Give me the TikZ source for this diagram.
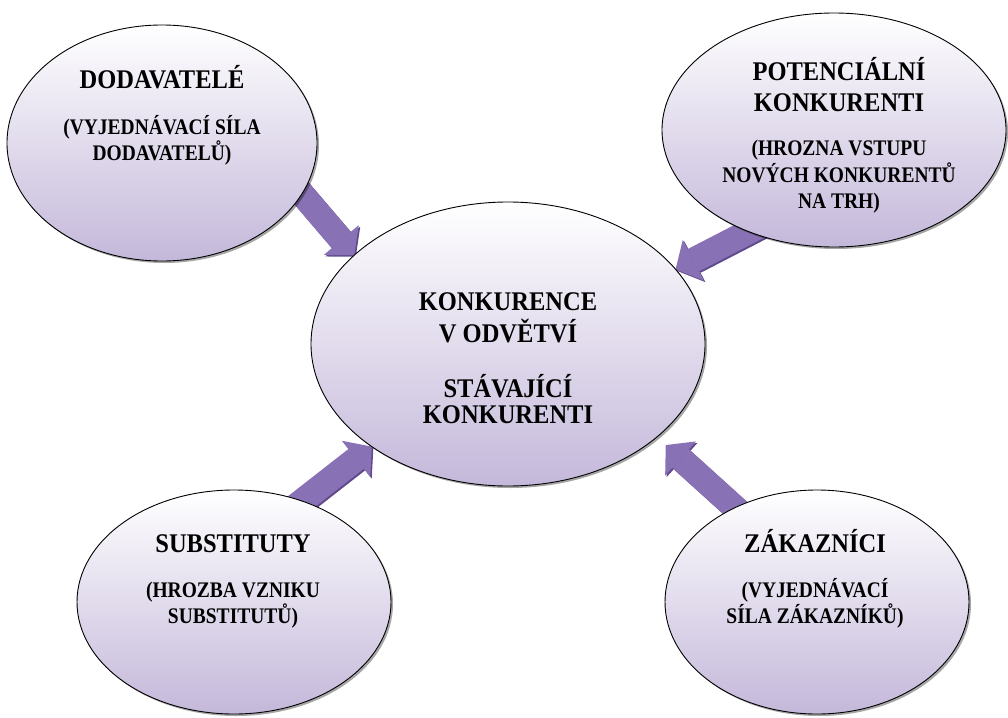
\documentclass[tikz,border=0pt]{standalone}
\usepackage{graphicx}
\usepackage{fontspec}
\setmainfont{Liberation Serif}
\usetikzlibrary{shapes.geometric,shadows,arrows.meta,backgrounds}
\definecolor{lav}{HTML}{C4B8DA}
\definecolor{arrmain}{HTML}{8872B5}
\definecolor{arrdark}{HTML}{5F4B8B}
\newcommand{\ttlbox}[1]{\scalebox{1}[1.1]{#1}}
\newcommand{\sbtbox}[1]{\scalebox{1}[1.14]{#1}}
\begin{document}
\begin{tikzpicture}[x=1pt,y=-1pt,
  bubble/.style={ellipse, draw=black, line width=0.9pt, top color=white, bottom color=lav,
    inner sep=0pt, outer sep=0pt,
    drop shadow={shadow xshift=2pt, shadow yshift=-2pt, fill=black, opacity=0.35}},
  ttl/.style={font=\fontsize{24.5}{28}\selectfont\bfseries, anchor=base, inner sep=0pt},
  sbt/.style={font=\fontsize{19.5}{22}\selectfont\bfseries, anchor=base, inner sep=0pt},
  blockarrow/.style={line width=25pt, draw=arrmain,
    -{Triangle[length=20pt,width=46pt,line width=0pt]}, shorten <=-15pt},
  blockshade/.style={blockarrow, draw=arrdark, fill=arrdark,
    transform canvas={xshift=1.5pt,yshift=-1.5pt}},
]
\useasboundingbox (0,0) rectangle (1008,717);

% ellipses
\node[bubble, minimum width=310pt, minimum height=236pt] (dod) at (162,143) {};
\node[bubble, minimum width=344pt, minimum height=234pt] (pot) at (834,130) {};
\node[bubble, minimum width=394pt, minimum height=284pt] (mid) at (508,344) {};
\node[bubble, minimum width=314pt, minimum height=224pt] (sub) at (234,602) {};
\node[bubble, minimum width=304pt, minimum height=224pt] (zak) at (817,602) {};

% texts
\node[ttl] (dodA) at (162,88)  {\ttlbox{DODAVATELÉ}};
\node[sbt] (dodB) at (162,134) {\sbtbox{(VYJEDNÁVACÍ SÍLA}};
\node[sbt] (dodC) at (162,160) {\sbtbox{DODAVATELŮ)}};

\node[ttl] (potA) at (839,80)  {\ttlbox{POTENCIÁLNÍ}};
\node[ttl] (potB) at (839,111) {\ttlbox{KONKURENTI}};
\node[sbt] (potC) at (839,155) {\sbtbox{(HROZNA VSTUPU}};
\node[sbt] (potD) at (839,182) {\sbtbox{NOVÝCH KONKURENTŮ}};
\node[sbt] (potE) at (839,208) {\sbtbox{NA TRH)}};

\node[ttl] (midA) at (508,310) {\ttlbox{KONKURENCE}};
\node[ttl] (midB) at (508,342) {\ttlbox{V ODVĚTVÍ}};
\node[ttl] (midC) at (508,397) {\ttlbox{STÁVAJÍCÍ}};
\node[ttl] (midD) at (508,423) {\ttlbox{KONKURENTI}};

\node[ttl] (subA) at (233,552) {\ttlbox{SUBSTITUTY}};
\node[sbt] (subB) at (233,597) {\sbtbox{(HROZBA VZNIKU}};
\node[sbt] (subC) at (233,623) {\sbtbox{SUBSTITUTŮ)}};

\node[ttl] (zakA) at (815,552) {\ttlbox{ZÁKAZNÍCI}};
\node[sbt] (zakB) at (815,597) {\sbtbox{(VYJEDNÁVACÍ}};
\node[sbt] (zakC) at (815,623) {\sbtbox{SÍLA ZÁKAZNÍKŮ)}};

% arrows behind the ellipses
\begin{pgfonlayer}{background}
\fill[white] (0,0) rectangle (1008,717);
\draw[blockshade] (dod.-20.5) -- (mid.150);
\draw[blockarrow] (dod.-20.5) -- (mid.150);
\draw[blockshade] (pot.230) -- (mid.24);
\draw[blockarrow] (pot.230) -- (mid.24);
\draw[blockshade] (sub.56) -- (mid.217);
\draw[blockarrow] (sub.56) -- (mid.217);
\draw[blockshade, shorten >=12pt] (zak.131) -- (mid.-32);
\draw[blockarrow, shorten >=12pt] (zak.131) -- (mid.-32);
\end{pgfonlayer}
\end{tikzpicture}
\end{document}
